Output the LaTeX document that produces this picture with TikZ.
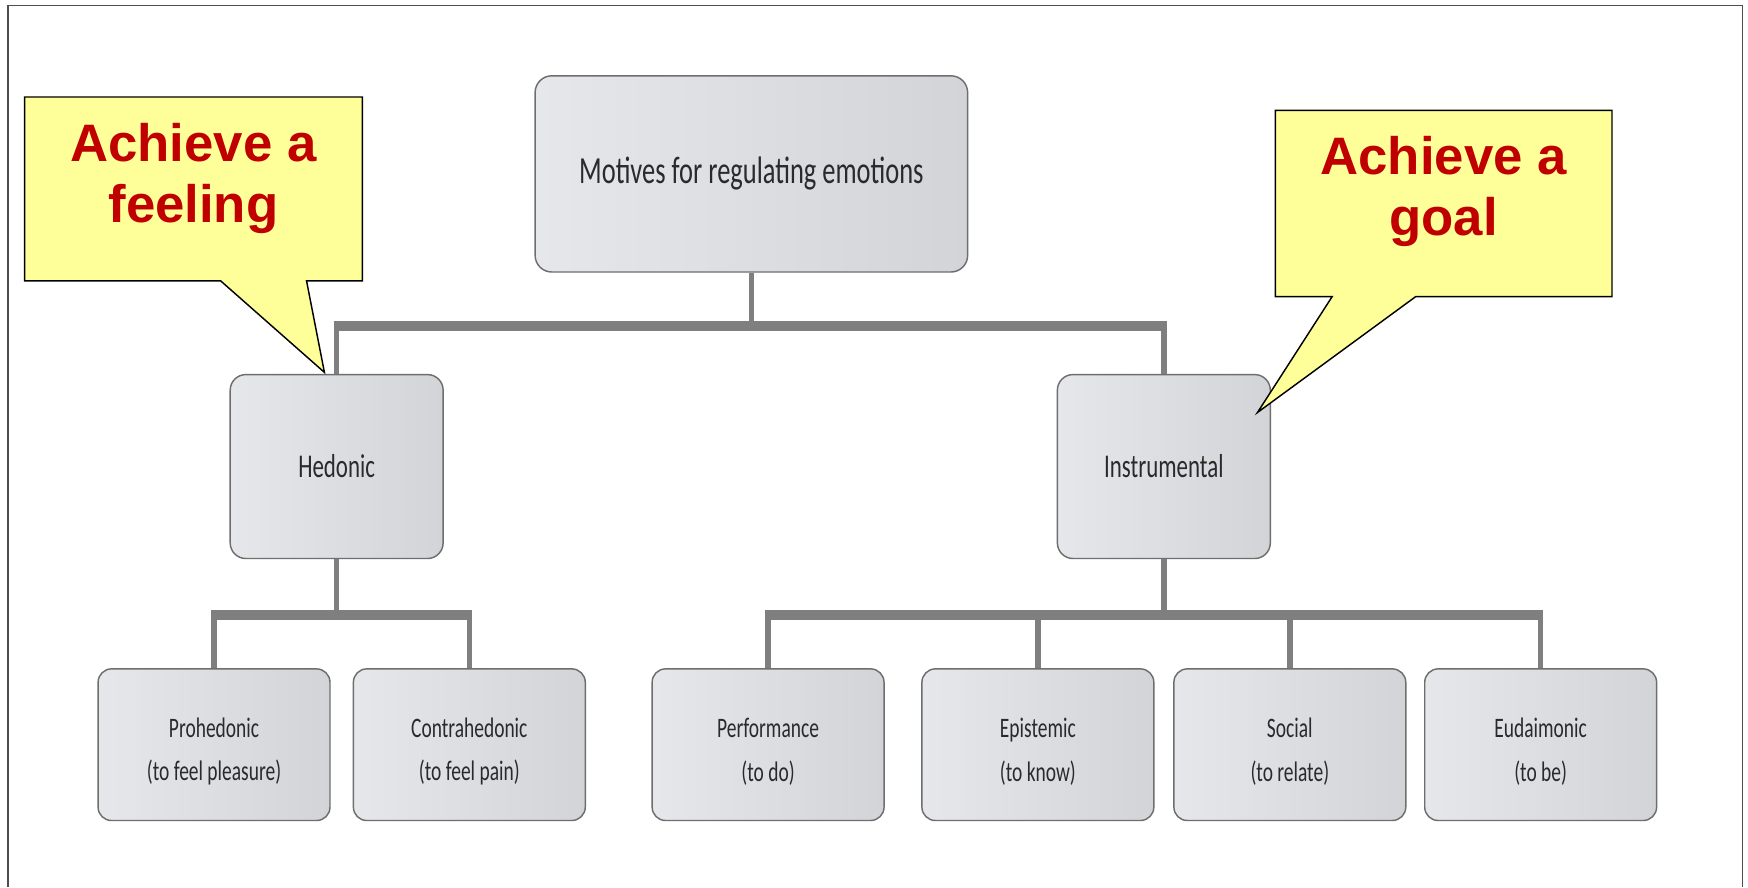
\documentclass[tikz,border=0pt]{standalone}
\usepackage{fontspec}
\usetikzlibrary{calc}
\newfontfamily\boxfont[FakeStretch=0.69]{Carlito}
\newfontfamily\notefont{Liberation Sans}
\definecolor{boxL}{HTML}{E5E7EA}
\definecolor{boxR}{HTML}{D2D4D7}
\definecolor{boxedge}{HTML}{6E6E6E}
\definecolor{linkgray}{HTML}{7F7F7F}
\definecolor{notefill}{HTML}{FFFF99}
\definecolor{notetext}{HTML}{C00000}
\definecolor{labeltext}{HTML}{2A2A2A}
\definecolor{framegray}{HTML}{4D4D4D}
% two-line leaf label; the strut lifts the first line's top so the pair sits a little low
\newcommand\leaflabel[2]{\rule{0pt}{30pt}#1\\#2}
\tikzset{
  motbox/.style={draw=boxedge, line width=1.3pt, left color=boxL, right color=boxR,
    rounded corners=15pt, inner sep=0pt, text=labeltext, align=center},
  rootbox/.style={motbox, minimum width=388pt, minimum height=176pt,
    font=\boxfont\fontsize{34.4}{40}\selectfont},
  midbox/.style={motbox, minimum width=191pt, minimum height=165pt, rounded corners=14pt,
    font=\boxfont\fontsize{29.8}{35}\selectfont},
  leafbox/.style={motbox, minimum width=208pt, minimum height=136pt, rounded corners=12pt,
    font=\boxfont\fontsize{25.3}{39}\selectfont},
  linkstem/.style={draw=linkgray, line width=5pt},
  linkbar/.style={draw=linkgray, line width=9pt},
  note/.style={draw=black, line width=1.3pt, fill=notefill, line join=miter},
  notelabel/.style={text=notetext, font=\notefont\bfseries\fontsize{47.3}{55}\selectfont,
    align=center, inner sep=0pt, anchor=north},
}
\begin{document}
\begin{tikzpicture}[x=1pt,y=-1pt]
\useasboundingbox[fill=white] (0,0) rectangle (1568,796);

% outer frame (open at the bottom)
\draw[framegray, line width=1.6pt] (7,796) -- (7,5) -- (1563,5) -- (1563,796);

% junction levels of the tree
\coordinate (jtop) at (674,292);
\coordinate (jhed) at (302,552);
\coordinate (jins) at (1044,552);

% boxes
\node[rootbox] (mot) at (674,156) {Motives for regulating emotions};
\node[midbox] (hed) at (302,418.5) {Hedonic};
\node[midbox] (ins) at (1044,418.5) {Instrumental};
\node[leafbox] (pro) at (192,668) {\leaflabel{Prohedonic}{(to feel pleasure)}};
\node[leafbox] (con) at (421,668) {\leaflabel{Contrahedonic}{(to feel pain)}};
\node[leafbox] (per) at (689,668) {\leaflabel{Performance}{(to do)}};
\node[leafbox] (epi) at (931,668) {\leaflabel{Epistemic}{(to know)}};
\node[leafbox] (soc) at (1157,668) {\leaflabel{Social}{(to relate)}};
\node[leafbox] (eud) at (1382,668) {\leaflabel{Eudaimonic}{(to be)}};

% first level connectors
\draw[linkstem] (mot.south) -- (mot.south |- jtop);
\draw[linkbar] ($(hed.north |- jtop)+(-2.5,0)$) -- ($(ins.north |- jtop)+(2.5,0)$);
\draw[linkstem] (hed.north |- jtop) -- (hed.north);
\draw[linkstem] (ins.north |- jtop) -- (ins.north);

% hedonic branch
\draw[linkstem] (hed.south) -- (hed.south |- jhed);
\draw[linkbar] ($(pro.north |- jhed)+(-2.5,0)$) -- ($(con.north |- jhed)+(2.5,0)$);
\draw[linkstem] (pro.north |- jhed) -- (pro.north);
\draw[linkstem] (con.north |- jhed) -- (con.north);

% instrumental branch
\draw[linkstem] (ins.south) -- (ins.south |- jins);
\draw[linkbar] ($(per.north |- jins)+(-2.5,0)$) -- ($(eud.north |- jins)+(2.5,0)$);
\draw[linkstem] (per.north |- jins) -- (per.north);
\draw[linkstem] (epi.north |- jins) -- (epi.north);
\draw[linkstem] (soc.north |- jins) -- (soc.north);
\draw[linkstem] (eud.north |- jins) -- (eud.north);

% speech-bubble notes
\draw[note] (22,87) -- (325,87) -- (325,252) -- (275,252) -- (291,334) -- (198,252) -- (22,252) -- cycle;
\node[notelabel] (feel) at (173.5,110) {Achieve a\\feeling};
\draw[note] (1144,99) -- (1446,99) -- (1446,266) -- (1270,266) -- (1128,370) -- (1195,266) -- (1144,266) -- cycle;
\node[notelabel] (goal) at (1295,122) {Achieve a\\goal};
\end{tikzpicture}
\end{document}
